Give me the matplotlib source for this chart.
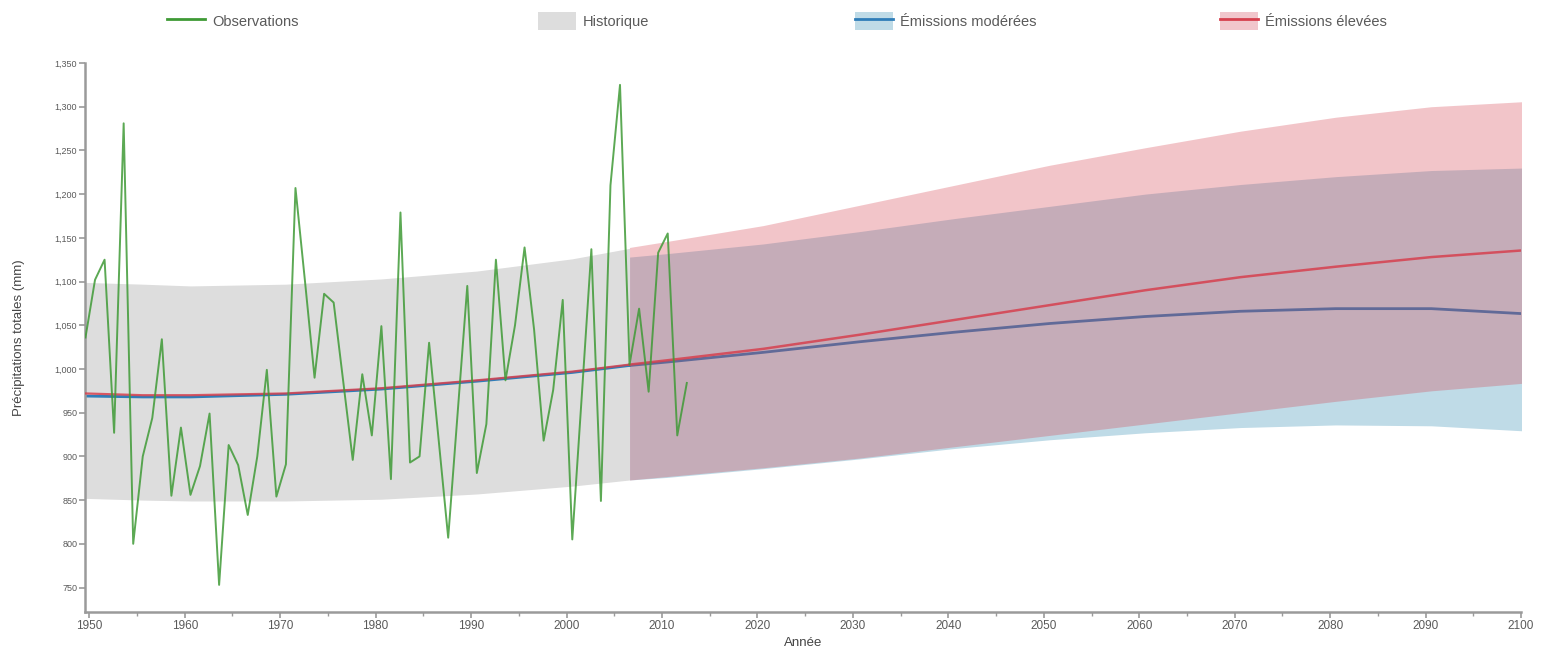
import numpy as np
import matplotlib.pyplot as plt
from matplotlib.lines import Line2D
from matplotlib.patches import Patch
from matplotlib.ticker import MultipleLocator, FuncFormatter

plt.rcParams['font.family'] = ['Liberation Sans', 'DejaVu Sans']

# observed annual totals (mm)
obs_years = np.arange(1949, 2013)
obs_precip = [1036, 1102, 1125, 927, 1281, 800, 900, 944, 1034, 855,
              933, 856, 889, 949, 753, 913, 890, 833, 900, 999,
              854, 891, 1207, 1100, 990, 1086, 1076, 986, 896, 994,
              924, 1049, 874, 1179, 893, 900, 1030, 919, 807, 951,
              1095, 881, 937, 1125, 987, 1050, 1139, 1045, 918, 976,
              1079, 805, 970, 1137, 849, 1210, 1325, 1005, 1069, 974,
              1133, 1155, 924, 984]

# modelled historical period
hist_years = [1949, 1955, 1960, 1970, 1980, 1990, 2000, 2006]
hist_upper = [1099, 1097, 1095, 1097, 1103, 1112, 1126, 1138]
hist_lower = [852, 850, 849, 849, 851, 857, 866, 873]
hist_mod_mean = [969, 968, 968, 971, 977, 986, 996, 1004]
hist_high_mean = [972, 970, 970, 972, 978, 987, 997, 1005]

# projections
proj_years = [2006, 2010, 2020, 2030, 2040, 2050, 2060, 2070, 2080, 2090, 2100]
mod_mean = [1004, 1008, 1019, 1031, 1042, 1052, 1060, 1066, 1069, 1069, 1063]
mod_upper = [1128, 1132, 1143, 1157, 1172, 1186, 1200, 1211, 1220, 1227, 1230]
mod_lower = [873, 876, 886, 897, 909, 919, 927, 933, 936, 935, 929]
high_mean = [1005, 1010, 1023, 1039, 1056, 1073, 1090, 1105, 1117, 1128, 1136]
high_upper = [1139, 1146, 1164, 1187, 1210, 1233, 1253, 1272, 1288, 1300, 1306]
high_lower = [873, 877, 887, 898, 911, 924, 937, 950, 963, 975, 984]

GREEN = '#3f9a36'
GREY = '#dddddd'
BLUE_FILL = '#bfdbe7'
BLUE_LINE = '#2f7db8'
RED = '#d6404e'
TEXT = '#5a5a5a'
AXIS = '#9a9a9a'

# annual values sit a little past the year tick
shift = 0.6
ox = obs_years + shift
hx = np.array(hist_years) + shift
px = np.array(proj_years) + shift

x0, x1 = 1949.6, 2100
px_per_year = 9.545
fig = plt.figure(figsize=(15.52, 6.52), dpi=100)
left_px = 89.3 - (1950 - x0) * px_per_year
ax_w = (x1 - x0) * px_per_year
ax = fig.add_axes([left_px / 1552, 1 - 612 / 652, ax_w / 1552, 549 / 652])

ax.fill_between(hx, hist_lower, hist_upper, color=GREY, lw=0, zorder=1)
ax.fill_between(px, mod_lower, mod_upper, color=BLUE_FILL, lw=0, zorder=1)
ax.plot(hx, hist_mod_mean, color=BLUE_LINE, lw=2, zorder=2)
ax.plot(px, mod_mean, color=BLUE_LINE, lw=2, zorder=2)
ax.fill_between(px, high_lower, high_upper, color=RED, alpha=0.3, lw=0, zorder=3)
ax.plot(hx, hist_high_mean, color=RED, lw=1.6, alpha=0.85, zorder=4)
ax.plot(px, high_mean, color=RED, lw=1.8, alpha=0.85, zorder=4)
ax.plot(ox, obs_precip, color=GREEN, lw=1.4, alpha=0.85, zorder=5)

ax.set_xlim(x0, x1)
ax.set_ylim(722, 1350)
ax.xaxis.set_major_locator(MultipleLocator(10))
ax.xaxis.set_minor_locator(MultipleLocator(5))
ax.set_yticks(np.arange(750, 1351, 50))
ax.yaxis.set_major_formatter(FuncFormatter(lambda v, p: f'{v:,.0f}'))

for side in ['top', 'right']:
    ax.spines[side].set_visible(False)
for side in ['left', 'bottom']:
    ax.spines[side].set_color(AXIS)
    ax.spines[side].set_linewidth(1.8)

ax.tick_params(axis='both', which='both', color=AXIS, direction='out')
ax.tick_params(axis='y', labelsize=6.5, labelcolor=TEXT, length=4, width=1.2, pad=2)
ax.tick_params(axis='x', which='major', labelsize=8.5, labelcolor=TEXT, length=4, width=1.2, pad=2)
ax.tick_params(axis='x', which='minor', length=3, width=1)

ax.set_xlabel('Année', fontsize=9.5, color='#444444', labelpad=3)
ax.set_ylabel('Précipitations totales (mm)', fontsize=9.5, color='#444444')
ax.yaxis.set_label_coords((25 - left_px) / ax_w, 0.5)

# legend entries spread along the top
entries = [
    (Line2D([], [], color=GREEN, lw=2), 'Observations', 167),
    (Patch(facecolor=GREY, edgecolor='none'), 'Historique', 538),
    ((Patch(facecolor=BLUE_FILL, edgecolor='none'),
      Line2D([], [], color=BLUE_LINE, lw=2)), 'Émissions modérées', 855),
    ((Patch(facecolor='#f1c6cc', edgecolor='none'),
      Line2D([], [], color=RED, lw=2)), 'Émissions élevées', 1220),
]
for handle, label, xpix in entries:
    fig.legend([handle], [label], loc='center left',
               bbox_to_anchor=(xpix / 1552, 1 - 21 / 652),
               frameon=False, fontsize=10.5, labelcolor=TEXT,
               handlelength=2.6, handleheight=1.6, handletextpad=0.5,
               borderpad=0, borderaxespad=0)

fig.savefig('out.png', dpi=100)
